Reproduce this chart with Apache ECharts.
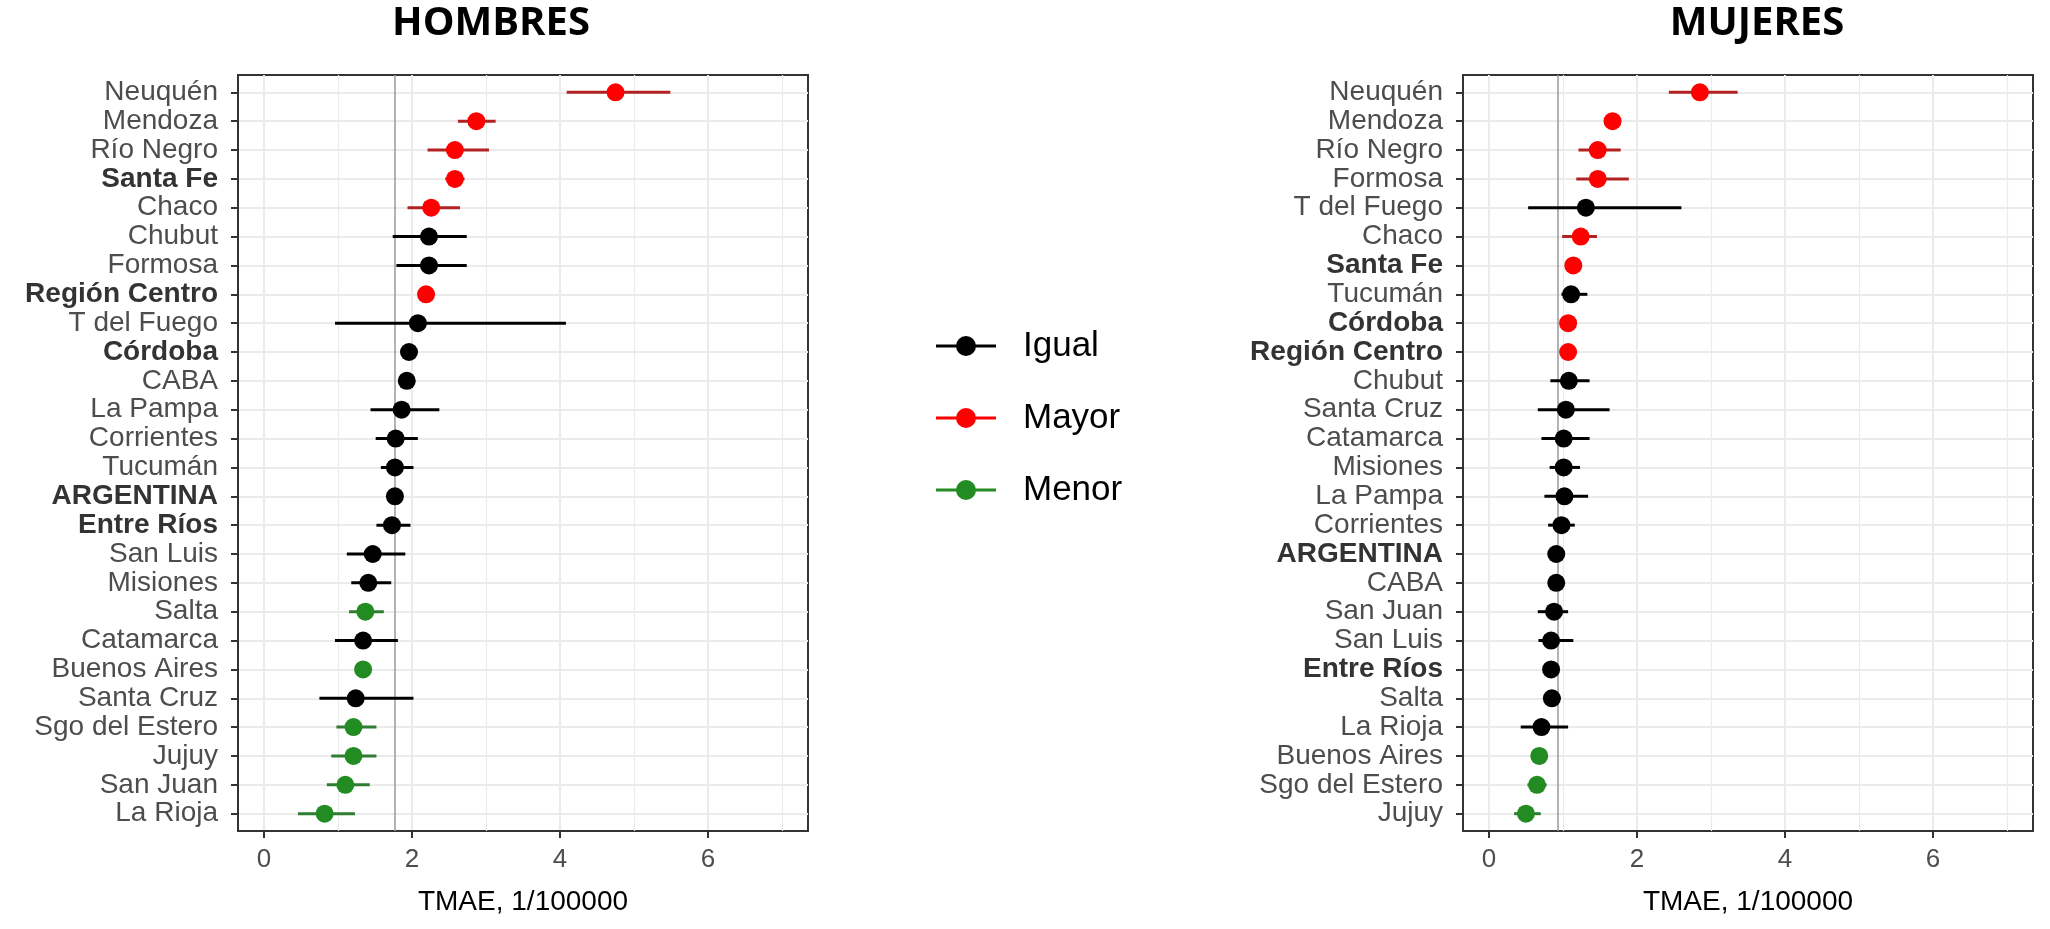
<!DOCTYPE html>
<html>
<head>
<meta charset="utf-8">
<script src="https://cdn.jsdelivr.net/npm/echarts@6/dist/echarts.min.js"></script>
<style>
html,body{margin:0;padding:0;background:#fff;}
#chart{width:2050px;height:929px;}
</style>
</head>
<body>
<div id="chart"></div>
<script>
// ---------- DATA ----------
const groupNames = ['Igual', 'Mayor', 'Menor'];
const boldNames = ['Santa Fe', 'Región Centro', 'Córdoba', 'ARGENTINA', 'Entre Ríos'];
const xTickValues = [0, 2, 4, 6];
const xMinorGrid = [1, 3, 5, 7];

// HOMBRES (top to bottom)
const hCats = ['Neuquén','Mendoza','Río Negro','Santa Fe','Chaco','Chubut','Formosa','Región Centro','T del Fuego','Córdoba','CABA','La Pampa','Corrientes','Tucumán','ARGENTINA','Entre Ríos','San Luis','Misiones','Salta','Catamarca','Buenos Aires','Santa Cruz','Sgo del Estero','Jujuy','San Juan','La Rioja'];
const hValue = [4.75,2.87,2.58,2.58,2.26,2.23,2.23,2.19,2.08,1.96,1.93,1.86,1.78,1.77,1.77,1.73,1.47,1.41,1.37,1.34,1.34,1.24,1.21,1.21,1.10,0.82];
const hLow   = [4.09,2.62,2.21,2.45,1.94,1.74,1.79,2.10,0.96,1.86,1.84,1.44,1.51,1.58,1.73,1.52,1.12,1.18,1.15,0.96,1.27,0.75,0.98,0.91,0.85,0.46];
const hHigh  = [5.49,3.13,3.04,2.71,2.65,2.74,2.74,2.28,4.08,2.06,2.02,2.37,2.08,2.02,1.81,1.98,1.91,1.72,1.62,1.81,1.41,2.02,1.52,1.52,1.43,1.23];
const hGroup = ['Mayor','Mayor','Mayor','Mayor','Mayor','Igual','Igual','Mayor','Igual','Igual','Igual','Igual','Igual','Igual','Igual','Igual','Igual','Igual','Menor','Igual','Menor','Igual','Menor','Menor','Menor','Menor'];
const hRef = 1.77;

// MUJERES (top to bottom)
const mCats = ['Neuquén','Mendoza','Río Negro','Formosa','T del Fuego','Chaco','Santa Fe','Tucumán','Córdoba','Región Centro','Chubut','Santa Cruz','Catamarca','Misiones','La Pampa','Corrientes','ARGENTINA','CABA','San Juan','San Luis','Entre Ríos','Salta','La Rioja','Buenos Aires','Sgo del Estero','Jujuy'];
const mValue = [2.85,1.67,1.47,1.47,1.31,1.24,1.14,1.11,1.07,1.07,1.08,1.04,1.01,1.01,1.02,0.98,0.91,0.91,0.88,0.84,0.84,0.85,0.71,0.68,0.65,0.50];
const mLow   = [2.43,1.57,1.21,1.18,0.53,0.99,1.05,0.98,0.98,1.01,0.83,0.66,0.71,0.82,0.75,0.80,0.87,0.83,0.66,0.67,0.74,0.74,0.43,0.63,0.52,0.34];
const mHigh  = [3.36,1.77,1.78,1.89,2.60,1.46,1.23,1.33,1.16,1.13,1.36,1.63,1.36,1.23,1.34,1.16,0.95,0.99,1.07,1.14,0.95,0.97,1.07,0.73,0.78,0.70];
const mGroup = ['Mayor','Mayor','Mayor','Mayor','Igual','Mayor','Mayor','Igual','Mayor','Mayor','Igual','Igual','Igual','Igual','Igual','Igual','Igual','Igual','Igual','Igual','Igual','Igual','Igual','Menor','Menor','Menor'];
const mRef = 0.93;

// ---------- STYLE ----------
const pointColor = {Igual: '#000000', Mayor: '#ff0000', Menor: '#228b22'};
const lineColor  = {Igual: '#000000', Mayor: '#b22222', Menor: '#2e7d32'};
const FONT = '"Liberation Sans", Arial, sans-serif';

const panels = [
  {cats: hCats, val: hValue, lo: hLow, hi: hHigh, grp: hGroup, ref: hRef, left: 238, title: 'HOMBRES', titleX: 491},
  {cats: mCats, val: mValue, lo: mLow, hi: mHigh, grp: mGroup, ref: mRef, left: 1463, title: 'MUJERES', titleX: 1757}
];

const grids = [], xAxes = [], yAxes = [], series = [], graphics = [];

panels.forEach((p, pi) => {
  const n = p.cats.length;
  const idx = p.cats.map((_, i) => i);
  grids.push({left: p.left, top: 75, width: 570, height: 756, show: true,
    borderColor: '#333333', borderWidth: 2, backgroundColor: '#ffffff', containLabel: false});
  xAxes.push({
    type: 'value', gridIndex: pi, min: -0.35, max: 7.35, splitNumber: 4, position: 'bottom',
    name: 'TMAE, 1/100000', nameLocation: 'middle', nameGap: 57,
    nameTextStyle: {fontSize: 28, color: '#000', fontFamily: FONT},
    axisLine: {show: true, onZero: false, lineStyle: {color: '#333', width: 2}},
    axisTick: {show: true, inside: false, customValues: xTickValues, length: 7, lineStyle: {color: '#333', width: 2}},
    axisLabel: {customValues: xTickValues, fontSize: 26, color: '#4d4d4d', margin: 16, fontFamily: FONT},
    splitLine: {show: true, lineStyle: {color: '#ebebeb', width: 2}}
  });
  yAxes.push({
    type: 'value', gridIndex: pi, min: -0.6, max: n - 1 + 0.6, inverse: true, position: 'left',
    axisLine: {show: true, onZero: false, lineStyle: {color: '#333', width: 2}},
    axisTick: {show: true, inside: false, customValues: idx, length: 7, lineStyle: {color: '#333', width: 2}},
    axisLabel: {
      customValues: idx, margin: 20, fontSize: 28, color: '#4d4d4d', fontFamily: FONT,
      formatter: v => {
        const name = p.cats[Math.round(v)];
        if (name === undefined) return '';
        return boldNames.includes(name) ? '{b|' + name + '}' : name;
      },
      rich: {b: {fontSize: 28, fontWeight: 'bold', color: '#333333', fontFamily: FONT}}
    },
    splitLine: {show: true, lineStyle: {color: '#ebebeb', width: 2}}
  });

  // minor grid + reference line
  series.push({
    type: 'line', name: 'ref' + pi, xAxisIndex: pi, yAxisIndex: pi, data: [], silent: true, z: 1,
    markLine: {
      silent: true, symbol: ['none', 'none'], label: {show: false}, z: 1,
      data: xMinorGrid.map(v => ({xAxis: v, lineStyle: {color: '#ebebeb', width: 1.2, type: 'solid'}}))
        .concat([{xAxis: p.ref, lineStyle: {color: '#9a9a9a', width: 1.5, type: 'solid'}}])
    }
  });

  // error bars
  series.push({
    type: 'custom', name: 'ci' + pi, xAxisIndex: pi, yAxisIndex: pi, z: 8, silent: true,
    data: idx.map(i => [p.lo[i], p.hi[i], i, groupNames.indexOf(p.grp[i])]),
    encode: {x: [0, 1], y: 2},
    renderItem: (params, api) => {
      const a = api.coord([api.value(0), api.value(2)]);
      const b = api.coord([api.value(1), api.value(2)]);
      const g = groupNames[api.value(3)];
      return {type: 'line', shape: {x1: a[0], y1: a[1], x2: b[0], y2: b[1]},
        style: {stroke: lineColor[g], lineWidth: 3}};
    }
  });

  // points
  groupNames.forEach(g => {
    series.push({
      type: 'scatter', name: g, xAxisIndex: pi, yAxisIndex: pi, z: 10,
      symbol: 'circle', symbolSize: 18,
      itemStyle: {color: pointColor[g], opacity: 1},
      data: idx.filter(i => p.grp[i] === g).map(i => [p.val[i], i])
    });
  });

  graphics.push({
    type: 'text', x: p.titleX, y: 24,
    style: {text: p.title, fill: '#000', fontSize: 40, fontWeight: 'bold',
      fontFamily: '"Open Sans", sans-serif', align: 'center', verticalAlign: 'middle'}
  });
});

const chart = echarts.init(document.getElementById('chart'), null, {renderer: 'canvas'});
chart.setOption({
  animation: false,
  backgroundColor: '#ffffff',
  grid: grids, xAxis: xAxes, yAxis: yAxes, series: series, graphic: graphics,
  legend: {
    data: groupNames, orient: 'vertical', left: 931, top: 321,
    icon: 'path://M0,8.5L60,8.5L60,11.5L0,11.5Z M40,10A10,10,0,1,1,20,10A10,10,0,1,1,40,10Z',
    itemWidth: 60, itemHeight: 20, itemGap: 32,
    textStyle: {fontSize: 35, color: '#000', fontFamily: FONT, lineHeight: 40, padding: [0, 0, 0, 22]},
    selectedMode: false
  }
});
</script>
</body>
</html>
